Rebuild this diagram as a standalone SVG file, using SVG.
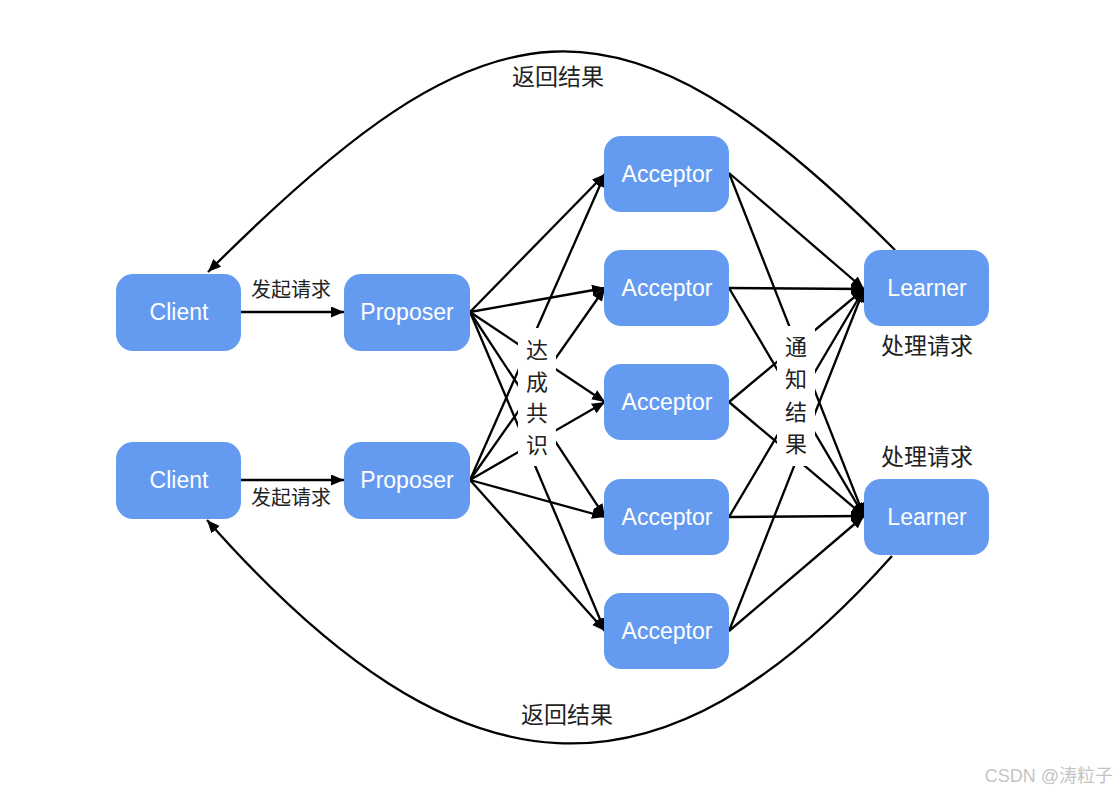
<svg xmlns="http://www.w3.org/2000/svg" width="1118" height="798" viewBox="0 0 1118 798">
<defs>
<marker id="arr" markerUnits="userSpaceOnUse" markerWidth="14" markerHeight="12" refX="13" refY="5.5" orient="auto">
<path d="M0,0 L13,5.5 L0,11 Z" fill="#000"/>
</marker>
<style>
.node rect{fill:#649BF0;}
.node text{font-family:"Liberation Sans",Arial,sans-serif;font-size:23px;fill:#fff;text-anchor:middle;}
.conn line,.conn path{stroke:#000;stroke-width:2.3;fill:none;marker-end:url(#arr);}
.lbl{font-family:"Noto Sans CJK SC","Liberation Sans",sans-serif;fill:#222;text-anchor:middle;}
.bg{fill:#fff;}
</style>
</defs>
<rect width="1118" height="798" fill="#fff"/>

<g id="connectors" class="conn">
<line x1="241" y1="312" x2="344" y2="312"/>
<line x1="241" y1="480" x2="344" y2="480"/>
<line x1="470" y1="312" x2="605" y2="174"/>
<line x1="470" y1="312" x2="605" y2="288"/>
<line x1="470" y1="312" x2="605" y2="402"/>
<line x1="470" y1="312" x2="605" y2="517"/>
<line x1="470" y1="312" x2="605" y2="631"/>
<line x1="470" y1="480" x2="605" y2="174"/>
<line x1="470" y1="480" x2="605" y2="288"/>
<line x1="470" y1="480" x2="605" y2="402"/>
<line x1="470" y1="480" x2="605" y2="517"/>
<line x1="470" y1="480" x2="605" y2="631"/>
<line x1="729" y1="173" x2="864" y2="289"/>
<line x1="729" y1="288" x2="864" y2="289"/>
<line x1="729" y1="402" x2="864" y2="289"/>
<line x1="729" y1="517" x2="864" y2="289"/>
<line x1="729" y1="631" x2="864" y2="289"/>
<line x1="729" y1="173" x2="864" y2="516"/>
<line x1="729" y1="288" x2="864" y2="516"/>
<line x1="729" y1="402" x2="864" y2="516"/>
<line x1="729" y1="517" x2="864" y2="516"/>
<line x1="729" y1="631" x2="864" y2="516"/>
<path d="M 895 250 C 616 -29, 487 -7, 208 272"/>
<path d="M 892 556 C 660 816, 460 807, 207 520"/>
</g>

<g id="label-consensus">
<rect class="bg" x="518" y="328" width="38" height="138"/>
<text class="lbl" font-size="22" x="537" y="358">达</text>
<text class="lbl" font-size="22" x="537" y="390">成</text>
<text class="lbl" font-size="22" x="537" y="421">共</text>
<text class="lbl" font-size="22" x="537" y="453">识</text>
</g>
<g id="label-notify">
<rect class="bg" x="777" y="326" width="38" height="140"/>
<text class="lbl" font-size="22" x="796" y="355">通</text>
<text class="lbl" font-size="22" x="796" y="387">知</text>
<text class="lbl" font-size="22" x="796" y="420">结</text>
<text class="lbl" font-size="22" x="796" y="452">果</text>
</g>
<g id="labels">
<text class="lbl" font-size="20" x="291" y="297">发起请求</text>
<text class="lbl" font-size="20" x="291" y="505">发起请求</text>
<text class="lbl" font-size="23" x="927" y="354">处理请求</text>
<text class="lbl" font-size="23" x="927" y="465">处理请求</text>
<text class="lbl" font-size="23" x="558" y="85">返回结果</text>
<text class="lbl" font-size="23" x="567" y="723">返回结果</text>
</g>

<g id="client1" class="node"><rect x="116" y="274" width="125" height="77" rx="17"/><text x="179" y="320">Client</text></g>
<g id="client2" class="node"><rect x="116" y="442" width="125" height="77" rx="17"/><text x="179" y="488">Client</text></g>
<g id="proposer1" class="node"><rect x="344" y="274" width="126" height="77" rx="17"/><text x="407" y="320">Proposer</text></g>
<g id="proposer2" class="node"><rect x="344" y="442" width="126" height="77" rx="17"/><text x="407" y="488">Proposer</text></g>
<g id="acceptor1" class="node"><rect x="604" y="136" width="125" height="76" rx="17"/><text x="667" y="182">Acceptor</text></g>
<g id="acceptor2" class="node"><rect x="604" y="250" width="125" height="76" rx="17"/><text x="667" y="296">Acceptor</text></g>
<g id="acceptor3" class="node"><rect x="604" y="364" width="125" height="76" rx="17"/><text x="667" y="410">Acceptor</text></g>
<g id="acceptor4" class="node"><rect x="604" y="479" width="125" height="76" rx="17"/><text x="667" y="525">Acceptor</text></g>
<g id="acceptor5" class="node"><rect x="604" y="593" width="125" height="76" rx="17"/><text x="667" y="639">Acceptor</text></g>
<g id="learner1" class="node"><rect x="864" y="250" width="125" height="76" rx="17"/><text x="927" y="296">Learner</text></g>
<g id="learner2" class="node"><rect x="864" y="479" width="125" height="76" rx="17"/><text x="927" y="525">Learner</text></g>

<text x="1113" y="782" font-family="'Liberation Sans','Noto Sans CJK SC',sans-serif" font-size="18" fill="#c4c4c4" text-anchor="end">CSDN @涛粒子</text>
</svg>
